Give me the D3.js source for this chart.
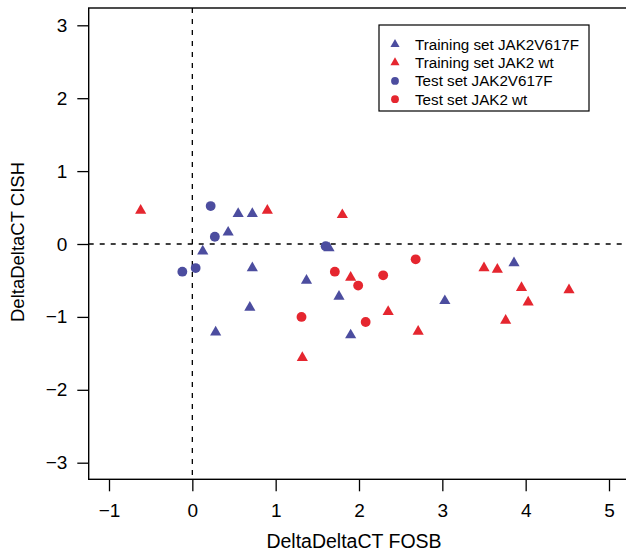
<!DOCTYPE html>
<html>
<head>
<meta charset="utf-8">
<script src="https://cdn.jsdelivr.net/npm/d3@7"></script>
<style>
  html, body { margin: 0; padding: 0; background: #fff; }
  svg { display: block; font-family: "Liberation Sans", Arial, Helvetica, sans-serif; }
</style>
</head>
<body>
<svg id="chart" width="626" height="553"></svg>
<script>
// ---- data ----
const trainMutX = [0.55, 0.72, 0.43, 0.125, 0.72, 0.69, 0.28, 1.64, 1.37, 1.76, 3.03, 1.90, 3.86];
const trainMutY = [0.415, 0.415, 0.16, -0.10, -0.33, -0.87, -1.21, -0.055, -0.50, -0.72, -0.78, -1.25, -0.26];
const trainWtX  = [-0.62, 0.90, 1.80, 1.90, 2.35, 2.71, 1.32, 3.50, 3.66, 3.95, 4.52, 4.03, 3.76];
const trainWtY  = [0.46, 0.46, 0.40, -0.46, -0.93, -1.20, -1.56, -0.33, -0.35, -0.60, -0.63, -0.80, -1.05];
const testMutX  = [0.22, 0.27, 0.04, -0.12, 1.60];
const testMutY  = [0.52, 0.10, -0.33, -0.38, -0.03];
const testWtX   = [2.68, 1.71, 2.29, 1.99, 1.31, 2.08];
const testWtY   = [-0.21, -0.38, -0.43, -0.57, -1.00, -1.07];
const xTicks = [-1, 0, 1, 2, 3, 4, 5];
const yTicks = [-3, -2, -1, 0, 1, 2, 3];
const legendLabels = ["Training set JAK2V617F", "Training set JAK2 wt", "Test set JAK2V617F", "Test set JAK2 wt"];

const BLUE = "#4c4d9f", RED = "#e5262f";
const series = [
  { xs: trainMutX, ys: trainMutY, shape: "tri", color: BLUE },
  { xs: trainWtX,  ys: trainWtY,  shape: "tri", color: RED },
  { xs: testMutX,  ys: testMutY,  shape: "cir", color: BLUE },
  { xs: testWtX,   ys: testWtY,   shape: "cir", color: RED }
];

const svg = d3.select("#chart");
const box = { left: 88.7, top: 8, right: 640, bottom: 479.3 };
const x = d3.scaleLinear().domain([-1, 5]).range([109, 609]);
const y = d3.scaleLinear().domain([-3, 3]).range([462.7, 25.3]);

const fmt = v => (v < 0 ? "\u2212" + Math.abs(v) : String(v));

// reference dashed lines
svg.append("line").attr("x1", x(0)).attr("x2", x(0)).attr("y1", box.top).attr("y2", box.bottom)
  .attr("stroke", "#000").attr("stroke-width", 1.3).attr("stroke-dasharray", "5,6");
svg.append("line").attr("x1", box.left).attr("x2", box.right).attr("y1", y(0)).attr("y2", y(0))
  .attr("stroke", "#000").attr("stroke-width", 1.3).attr("stroke-dasharray", "5,6");

// points
const triPath = d3.symbol().type(d3.symbolTriangle).size(54);
const cirPath = d3.symbol().type(d3.symbolCircle).size(76);
series.forEach(s => {
  const pts = s.xs.map((v, i) => [v, s.ys[i]]);
  svg.append("g").selectAll("path").data(pts).join("path")
    .attr("d", s.shape === "tri" ? triPath : cirPath)
    .attr("transform", d => `translate(${x(d[0])},${y(d[1])})`)
    .attr("fill", s.color);
});

// box
svg.append("rect").attr("x", box.left).attr("y", box.top)
  .attr("width", box.right - box.left).attr("height", box.bottom - box.top)
  .attr("fill", "none").attr("stroke", "#000").attr("stroke-width", 1.4);

// x axis
const xAxis = d3.axisBottom(x).tickValues(xTicks).tickSize(12).tickPadding(12).tickFormat(fmt);
const gx = svg.append("g").attr("transform", `translate(0,${box.bottom})`).call(xAxis);
gx.select(".domain").remove();
gx.selectAll(".tick line").attr("stroke", "#000").attr("stroke-width", 1.3);
gx.selectAll(".tick text").attr("font-size", 19).attr("fill", "#000")
  .attr("font-family", "Liberation Sans, Arial, sans-serif");

// y axis
const yAxis = d3.axisLeft(y).tickValues(yTicks).tickSize(11.4).tickPadding(10).tickFormat(fmt);
const gy = svg.append("g").attr("transform", `translate(${box.left},0)`).call(yAxis);
gy.select(".domain").remove();
gy.selectAll(".tick line").attr("stroke", "#000").attr("stroke-width", 1.3);
gy.selectAll(".tick text").attr("font-size", 19).attr("fill", "#000")
  .attr("font-family", "Liberation Sans, Arial, sans-serif");

// axis titles
svg.append("text").attr("x", 354).attr("y", 548).attr("text-anchor", "middle")
  .attr("font-size", 19.5).text("DeltaDeltaCT FOSB");
svg.append("text").attr("transform", "translate(24,242) rotate(-90)").attr("text-anchor", "middle")
  .attr("font-size", 18.5).text("DeltaDeltaCT CISH");

// legend
const lg = svg.append("g");
lg.append("rect").attr("x", 379).attr("y", 25).attr("width", 210).attr("height", 86)
  .attr("fill", "#fff").attr("stroke", "#000").attr("stroke-width", 1.2);
const rowY = d3.scaleLinear().domain([0, 3]).range([44.3, 99.2]);
const triSmall = d3.symbol().type(d3.symbolTriangle).size(36);
const cirSmall = d3.symbol().type(d3.symbolCircle).size(48);
series.forEach((s, i) => {
  lg.append("path").attr("d", s.shape === "tri" ? triSmall : cirSmall)
    .attr("transform", `translate(395,${rowY(i)})`).attr("fill", s.color);
  lg.append("text").attr("x", 415).attr("y", rowY(i) + 5.5).attr("font-size", 15.2)
    .text(legendLabels[i]);
});
</script>
</body>
</html>
